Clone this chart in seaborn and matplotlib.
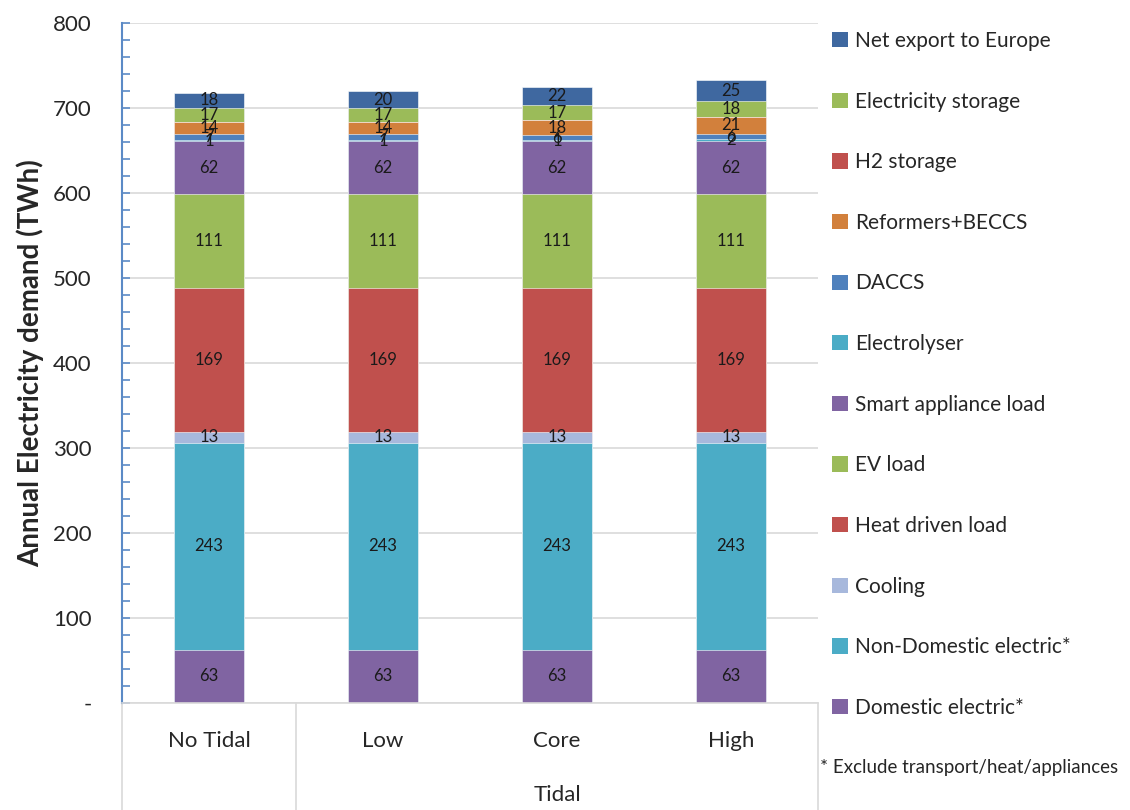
import numpy as np
import pandas as pd
import matplotlib
matplotlib.use("Agg")
import matplotlib.pyplot as plt
import matplotlib.ticker as ticker
from matplotlib.patches import Patch
import seaborn as sns

# scenarios and the demand components (bottom to top), TWh
scenarios = ["No Tidal", "Low", "Core", "High"]
domestic = [63, 63, 63, 63]
non_domestic = [243, 243, 243, 243]
cooling = [13, 13, 13, 13]
heat_driven = [169, 169, 169, 169]
ev_load = [111, 111, 111, 111]
smart_appliance = [62, 62, 62, 62]
electrolyser = [1, 1, 1, 2]
daccs = [7, 7, 6, 6]
reformers = [14, 14, 18, 21]
h2_storage = [0, 0, 0, 0]
elec_storage = [17, 17, 17, 18]
net_export = [18, 20, 22, 25]

components = [
    ("Domestic electric*", domestic, "#8064A2"),
    ("Non-Domestic electric*", non_domestic, "#4BACC6"),
    ("Cooling", cooling, "#A7B8DC"),
    ("Heat driven load", heat_driven, "#C0504D"),
    ("EV load", ev_load, "#9BBB59"),
    ("Smart appliance load", smart_appliance, "#8064A2"),
    ("Electrolyser", electrolyser, "#4BACC6"),
    ("DACCS", daccs, "#4F81BD"),
    ("Reformers+BECCS", reformers, "#D2803C"),
    ("H2 storage", h2_storage, "#C0504D"),
    ("Electricity storage", elec_storage, "#9BBB59"),
    ("Net export to Europe", net_export, "#3F68A0"),
]

sns.set_style("white")
plt.rcParams["font.family"] = ["Lato", "DejaVu Sans"]

fig = plt.figure(figsize=(11.3, 8.1), dpi=100)
ax = fig.add_axes([0.108, 0.132, 0.616, 0.8396])

df = pd.DataFrame({name: vals for name, vals, _ in components}, index=scenarios)
cum = df.cumsum(axis=1)

# draw cumulative totals from the top layer down so they look stacked
for name, _, color in reversed(components):
    sns.barplot(x=scenarios, y=cum[name].values, color=color, width=0.4,
                saturation=1, edgecolor="white", linewidth=0.4, ax=ax, zorder=2)

# segment value labels
for i, sc in enumerate(scenarios):
    for name, vals, _ in components:
        v = vals[i]
        if v == 0:
            continue
        mid = cum.loc[sc, name] - v / 2
        ax.text(i, mid, f"{v}", ha="center", va="center", fontsize=12,
                color="#1a1a1a", zorder=5)

ax.set_ylim(0, 800)
ax.set_xlim(-0.5, 3.5)
ax.yaxis.set_major_locator(ticker.MultipleLocator(100))
ax.yaxis.set_minor_locator(ticker.MultipleLocator(20))
ax.yaxis.set_major_formatter(ticker.FuncFormatter(lambda v, p: "-" if v == 0 else f"{int(v)}"))
ax.grid(axis="y", color="#D9D9D9", linewidth=1.2, zorder=0)
ax.set_axisbelow(True)

spine_blue = "#5B8AC6"
for s in ["top", "right"]:
    ax.spines[s].set_visible(False)
ax.spines["left"].set_color(spine_blue)
ax.spines["left"].set_linewidth(1.5)
ax.spines["bottom"].set_color("#D9D9D9")
ax.spines["bottom"].set_linewidth(1.2)
ax.tick_params(axis="y", which="both", left=True, direction="in", color=spine_blue, width=1.2)
ax.tick_params(axis="y", which="major", length=6, labelsize=16, pad=22)
ax.tick_params(axis="y", which="minor", length=6)
ax.set_ylabel("Annual Electricity demand (TWh)", fontsize=20, fontweight="bold", labelpad=6)

# multi-level category axis
ax.set_xticks([])
ax.set_xlabel("")
for i, sc in enumerate(scenarios):
    ax.text(i, -0.056, sc, transform=ax.get_xaxis_transform(), ha="center",
            va="center", fontsize=16)
ax.text(0.625, -0.135, "Tidal", transform=ax.transAxes, ha="center", va="center", fontsize=16)
for xp in [0.0, 0.25, 1.0]:
    ax.plot([xp, xp], [0, -0.16], transform=ax.transAxes, color="#D9D9D9",
            linewidth=1.2, clip_on=False)

# legend, top entry first
handles = [Patch(facecolor=c, edgecolor="none") for _, _, c in reversed(components)]
labels = [n for n, _, _ in reversed(components)]
fig.legend(handles, labels, loc="upper left", bbox_to_anchor=(0.72, 0.985),
           frameon=False, fontsize=15, labelspacing=1.95, handlelength=0.75,
           handleheight=0.75, handletextpad=0.35)

fig.text(0.726, 0.052, "* Exclude transport/heat/appliances", fontsize=13.5, va="center")

fig.savefig("out.png", dpi=100)
